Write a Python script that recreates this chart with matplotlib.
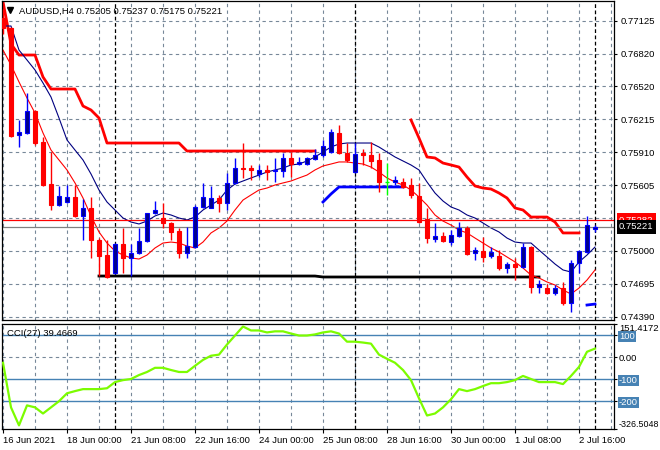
import matplotlib
matplotlib.use("Agg")
import matplotlib.pyplot as plt
import numpy as np

plt.rcParams['font.family'] = ['Liberation Sans', 'DejaVu Sans']
FS = 6.8

# AUDUSD H4 bars, 16 Jun 2021 16:00 .. 5 Jul 2021 00:00
opens = [0.77150, 0.77058, 0.76069, 0.76088, 0.76291, 0.76004, 0.75616, 0.75422, 0.75450, 0.75496,
         0.75321, 0.75395, 0.75099, 0.74960, 0.74794, 0.75062, 0.74933, 0.74979, 0.75090, 0.75348,
         0.75302, 0.75256, 0.75182, 0.74979, 0.75034, 0.75404, 0.75395, 0.75487, 0.75441, 0.75626,
         0.75764, 0.75764, 0.75709, 0.75746, 0.75736, 0.75736, 0.75857, 0.75801, 0.75801, 0.75847,
         0.75884, 0.75912, 0.76088, 0.75903, 0.75727, 0.75903, 0.75884, 0.75838, 0.75635, 0.75635,
         0.75635, 0.75607, 0.75505, 0.75293, 0.75108, 0.75136, 0.75080, 0.75136, 0.75210, 0.74979,
         0.74997, 0.74951, 0.74951, 0.74840, 0.74877, 0.74849, 0.75034, 0.74665, 0.74655, 0.74609,
         0.74655, 0.74517, 0.74886, 0.74988, 0.75205]
highs = [0.77230, 0.77067, 0.76208, 0.76457, 0.76300, 0.76051, 0.75912, 0.75598, 0.75607, 0.75607,
         0.75478, 0.75496, 0.75117, 0.75099, 0.75071, 0.75210, 0.75062, 0.75210, 0.75348, 0.75459,
         0.75441, 0.75265, 0.75210, 0.75219, 0.75422, 0.75626, 0.75598, 0.75515, 0.75718, 0.75857,
         0.75995, 0.75792, 0.75792, 0.75792, 0.75857, 0.75903, 0.75912, 0.75866, 0.75866, 0.75940,
         0.76023, 0.76125, 0.76161, 0.75995, 0.75995, 0.75940, 0.76004, 0.75903, 0.75810, 0.75690,
         0.75672, 0.75672, 0.75626, 0.75395, 0.75256, 0.75173, 0.75191, 0.75265, 0.75228, 0.75034,
         0.75127, 0.75034, 0.75006, 0.74896, 0.74933, 0.75071, 0.75043, 0.74729, 0.74692, 0.74683,
         0.74711, 0.74914, 0.75006, 0.75321, 0.75237]
lows = [0.77000, 0.76051, 0.75958, 0.76080, 0.75977, 0.75598, 0.75376, 0.75413, 0.75441, 0.75311,
        0.75099, 0.74933, 0.74766, 0.74748, 0.74785, 0.74794, 0.74766, 0.74970, 0.75080, 0.75340,
        0.75210, 0.75099, 0.74933, 0.74933, 0.75025, 0.75395, 0.75390, 0.75358, 0.75376, 0.75620,
        0.75672, 0.75653, 0.75681, 0.75653, 0.75635, 0.75681, 0.75681, 0.75792, 0.75792, 0.75838,
        0.75866, 0.75903, 0.75895, 0.75820, 0.75718, 0.75792, 0.75764, 0.75542, 0.75515, 0.75607,
        0.75579, 0.75487, 0.75258, 0.75071, 0.75080, 0.75080, 0.75053, 0.75127, 0.74960, 0.74914,
        0.74896, 0.74933, 0.74822, 0.74794, 0.74729, 0.74840, 0.74609, 0.74609, 0.74600, 0.74591,
        0.74498, 0.74434, 0.74794, 0.74980, 0.75175]
closes = [0.77058, 0.76060, 0.76097, 0.76291, 0.75995, 0.75607, 0.75422, 0.75505, 0.75496, 0.75321,
          0.75395, 0.75099, 0.74951, 0.74757, 0.75062, 0.74933, 0.74979, 0.75090, 0.75348, 0.75376,
          0.75256, 0.75173, 0.74979, 0.75043, 0.75404, 0.75496, 0.75487, 0.75441, 0.75626, 0.75764,
          0.75755, 0.75746, 0.75746, 0.75727, 0.75746, 0.75857, 0.75801, 0.75820, 0.75857, 0.75884,
          0.75967, 0.76097, 0.75903, 0.75838, 0.75894, 0.75884, 0.75829, 0.75635, 0.75635, 0.75653,
          0.75589, 0.75515, 0.75265, 0.75117, 0.75136, 0.75090, 0.75145, 0.75210, 0.74970, 0.75006,
          0.74942, 0.74988, 0.74840, 0.74877, 0.74849, 0.75034, 0.74665, 0.74692, 0.74609, 0.74655,
          0.74517, 0.74886, 0.74997, 0.75237, 0.75221]

# moving averages
ma_fast = [0.77076, 0.77076, 0.76854, 0.76762, 0.76670, 0.76550, 0.76420, 0.76226, 0.76023, 0.75930,
           0.75838, 0.75709, 0.75561, 0.75450, 0.75376, 0.75302, 0.75265, 0.75247, 0.75274, 0.75321,
           0.75348, 0.75330, 0.75302, 0.75284, 0.75311, 0.75376, 0.75422, 0.75468, 0.75561, 0.75616,
           0.75644, 0.75672, 0.75699, 0.75727, 0.75746, 0.75764, 0.75792, 0.75801, 0.75829, 0.75866,
           0.75912, 0.75958, 0.75986, 0.75995, 0.75995, 0.75995, 0.75995, 0.75958, 0.75912, 0.75866,
           0.75829, 0.75792, 0.75746, 0.75635, 0.75533, 0.75459, 0.75404, 0.75376, 0.75330, 0.75302,
           0.75256, 0.75210, 0.75173, 0.75117, 0.75080, 0.75071, 0.75071, 0.75006, 0.74942, 0.74877,
           0.74822, 0.74803, 0.74896, 0.74960, 0.75034]
ma_slow = [0.76854, 0.76716, 0.76559, 0.76411, 0.76272, 0.76088, 0.75930, 0.75838, 0.75746, 0.75626,
           0.75487, 0.75321, 0.75173, 0.75071, 0.74997, 0.74960, 0.74933, 0.74923, 0.74960, 0.75025,
           0.75071, 0.75080, 0.75071, 0.75043, 0.75025, 0.75080, 0.75164, 0.75210, 0.75274, 0.75376,
           0.75468, 0.75515, 0.75561, 0.75579, 0.75607, 0.75626, 0.75644, 0.75672, 0.75699, 0.75746,
           0.75783, 0.75801, 0.75820, 0.75820, 0.75810, 0.75801, 0.75773, 0.75727, 0.75672, 0.75635,
           0.75607, 0.75561, 0.75496, 0.75422, 0.75330, 0.75274, 0.75237, 0.75191, 0.75164, 0.75117,
           0.75071, 0.75025, 0.74988, 0.74942, 0.74896, 0.74840, 0.74775, 0.74748, 0.74711, 0.74683,
           0.74637, 0.74600, 0.74655, 0.74729, 0.74822]

# stop lines (None = not drawn)
stop_upper = [0.77300, 0.76910, 0.76808, 0.76808, 0.76808, 0.76605, 0.76494, 0.76494, 0.76494, 0.76494,
              0.76337, 0.76300, 0.76226, 0.75995, 0.75995, 0.75995, 0.75995, 0.75995, 0.75995, 0.75995,
              0.75995, 0.75995, 0.75995, 0.75921, 0.75921, 0.75921, 0.75921, 0.75921, 0.75921, 0.75921,
              0.75921, 0.75921, 0.75921, 0.75921, 0.75921, 0.75921, 0.75921, 0.75921, 0.75921, 0.75921,
              None, None, None, None, None, None, None, None, None, None,
              None, 0.76208, 0.76041, 0.75866, 0.75857, 0.75810, 0.75792, 0.75773, 0.75681, 0.75598,
              0.75579, 0.75570, 0.75533, 0.75487, 0.75395, 0.75376, 0.75311, 0.75311, 0.75311, 0.75265,
              0.75164, 0.75164, 0.75164, None, None]
stop_lower = [None] * 40 + [0.75450, 0.75524, 0.75589, 0.75589, 0.75589, 0.75589, 0.75589, 0.75589,
                            0.75589, 0.75589, 0.75589] + [None] * 22 + [0.74498, 0.74507]
support = [None] * 12 + [0.74766] * 28 + [0.74757] * 28 + [None] * 7

alert_price = 0.75282
bid_price = 0.75221
week_starts = [14, 44, 74]

cci = [-25, -228, -310, -219, -228, -256, -228, -200, -164, -154,
       -145, -145, -145, -141, -113, -104, -99, -81, -67, -48,
       -48, -58, -67, -67, -39, -12, 7, 12, 58, 99,
       140, 122, 122, 113, 118, 118, 108, 99, 99, 104,
       113, 118, 108, 71, 71, 67, 62, 12, -7, -25,
       -58, -104, -187, -265, -256, -228, -191, -145, -154, -145,
       -131, -118, -118, -113, -104, -85, -99, -113, -113, -113,
       -122, -85, -44, 25, 39.4669]
cci_levels = [100, -100, -200]

price_ticks = [0.77125, 0.76820, 0.76520, 0.76215, 0.75910, 0.75605, 0.75000, 0.74695, 0.74390]
cci_ticks = [151.4172, 100, 0, -100, -200, -326.5048]
cci_tick_labels = ['151.4172', '100', '0.00', '-100', '-200', '-326.5048']
date_pos = [0, 8, 16, 24, 32, 40, 48, 56, 64, 72]
date_labels = ['16 Jun 2021', '18 Jun 00:00', '21 Jun 08:00', '22 Jun 16:00', '24 Jun 00:00',
               '25 Jun 08:00', '28 Jun 16:00', '30 Jun 00:00', '1 Jul 08:00', '2 Jul 16:00']

o = np.array(opens)
h = np.array(highs)
l = np.array(lows)
c = np.array(closes)
x = np.arange(len(c))

W, H = 660, 450
fig = plt.figure(figsize=(W / 100, H / 100), dpi=100)


def px_box(left, top, right, bottom):
    return [left / W, 1 - bottom / H, (right - left) / W, (bottom - top) / H]


ax = fig.add_axes(px_box(2, 1, 614, 320))
ax2 = fig.add_axes(px_box(2, 324, 614, 429))

grid_kw = dict(color='#778899', lw=0.8, ls=(0, (3, 3)), zorder=0)
for gx in range(0, 77, 4):
    ax.axvline(gx, **grid_kw)
    ax2.axvline(gx, **grid_kw)
for gy in price_ticks + [0.75300]:
    ax.axhline(gy, **grid_kw)
ax2.axhline(0, **grid_kw)
for ws in week_starts:
    ax.axvline(ws, color='black', lw=0.9, ls=(0, (3, 2)), zorder=1)
    ax2.axvline(ws, color='black', lw=0.9, ls=(0, (3, 2)), zorder=1)

# indicator lines
ax.plot(x, np.array(support, dtype=float), color='black', lw=2.0, zorder=2)
ax.plot(x, np.array(stop_upper, dtype=float), color='#ff0000', lw=2.0, zorder=2)
ax.plot(x, np.array(stop_lower, dtype=float), color='#0000ff', lw=2.0, zorder=2)
ax.plot(x, ma_fast, color='#000080', lw=0.8, zorder=2)
ax.plot(x, ma_slow, color='#ff0000', lw=0.8, zorder=2)
ax.axhline(alert_price, color='#ff0000', lw=0.9, zorder=2)
ax.axhline(bid_price, color='#808080', lw=0.9, zorder=2)

# candles
up = c > o
dn = c < o
eq = c == o
ax.vlines(x[up], l[up], h[up], color='#0000ff', lw=1, zorder=3)
ax.vlines(x[dn], l[dn], h[dn], color='#ff0000', lw=1, zorder=3)
ax.vlines(x[eq], l[eq], h[eq], color='#00ff00', lw=1, zorder=3)
ax.bar(x[up], c[up] - o[up], bottom=o[up], width=0.62, color='#00008b',
       edgecolor='#0000ff', lw=0.8, zorder=4)
ax.bar(x[dn], o[dn] - c[dn], bottom=c[dn], width=0.62, color='#ff0000',
       edgecolor='#ff0000', lw=0.8, zorder=4)
ax.hlines(o[eq], x[eq] - 0.3, x[eq] + 0.3, color='#00ff00', lw=1, zorder=4)

ax.set_xlim(-0.125, 76.375)
ax.set_ylim(0.743597, 0.773072)
ax.yaxis.tick_right()
ax.set_yticks(price_ticks)
ax.set_yticklabels([f'{v:.5f}' for v in price_ticks])
ax.tick_params(axis='y', length=2.5, labelsize=FS, pad=2, width=0.8)
ax.tick_params(axis='x', bottom=False, labelbottom=False)

# price tags on the scale
tag_tr = ax.get_yaxis_transform()
ax.text(1.008, alert_price, f'{alert_price:.5f}', transform=tag_tr, va='center', ha='left',
        fontsize=FS, color='white', clip_on=False,
        bbox=dict(boxstyle='square,pad=0.25', fc='#ff0000', ec='none'))
ax.text(1.008, bid_price, f'{bid_price:.5f}', transform=tag_tr, va='center', ha='left',
        fontsize=FS, color='white', clip_on=False,
        bbox=dict(boxstyle='square,pad=0.25', fc='black', ec='none'))

fig.text(19 / W, 1 - 11 / H, 'AUDUSD,H4 0.75205 0.75237 0.75175 0.75221',
         fontsize=FS, va='center', ha='left')
ax.plot([(10 - 2) / 612], [1 - (10 - 1) / 319], marker='v', color='black', ms=5,
        transform=ax.transAxes, clip_on=False)

# CCI panel
for lv in cci_levels:
    ax2.axhline(lv, color='#4682b4', lw=1, zorder=1)
ax2.plot(x, cci, color='#7cfc00', lw=1.6, zorder=3)
ax2.set_xlim(-0.125, 76.375)
ax2.set_ylim(-326.5048, 151.4172)
ax2.yaxis.tick_right()
ax2.set_yticks(cci_ticks)
ax2.set_yticklabels(cci_tick_labels)
ax2.tick_params(axis='y', length=2, labelsize=FS, pad=1.5, width=0.8)
ylabels = ax2.get_yticklabels()
ylabels[0].set_va('top')
ylabels[-1].set_va('bottom')
ylabels[-1].set_fontsize(6.4)
for lab in ylabels[1:2] + ylabels[3:5]:
    lab.set_bbox(dict(boxstyle='square,pad=0.1', fc='#4682b4', ec='none'))
    lab.set_color('white')
ax2.set_xticks(date_pos)
ax2.set_xticklabels(date_labels, ha='left')
ax2.tick_params(axis='x', length=3, labelsize=FS, pad=2, width=0.8)
ax2.text(0.008, 0.95, 'CCI(27) 39.4669', transform=ax2.transAxes, fontsize=FS,
         va='top', ha='left')

for a in (ax, ax2):
    for s in a.spines.values():
        s.set_linewidth(0.9)
        s.set_color('black')

fig.savefig('out.png', dpi=100, facecolor='white')
